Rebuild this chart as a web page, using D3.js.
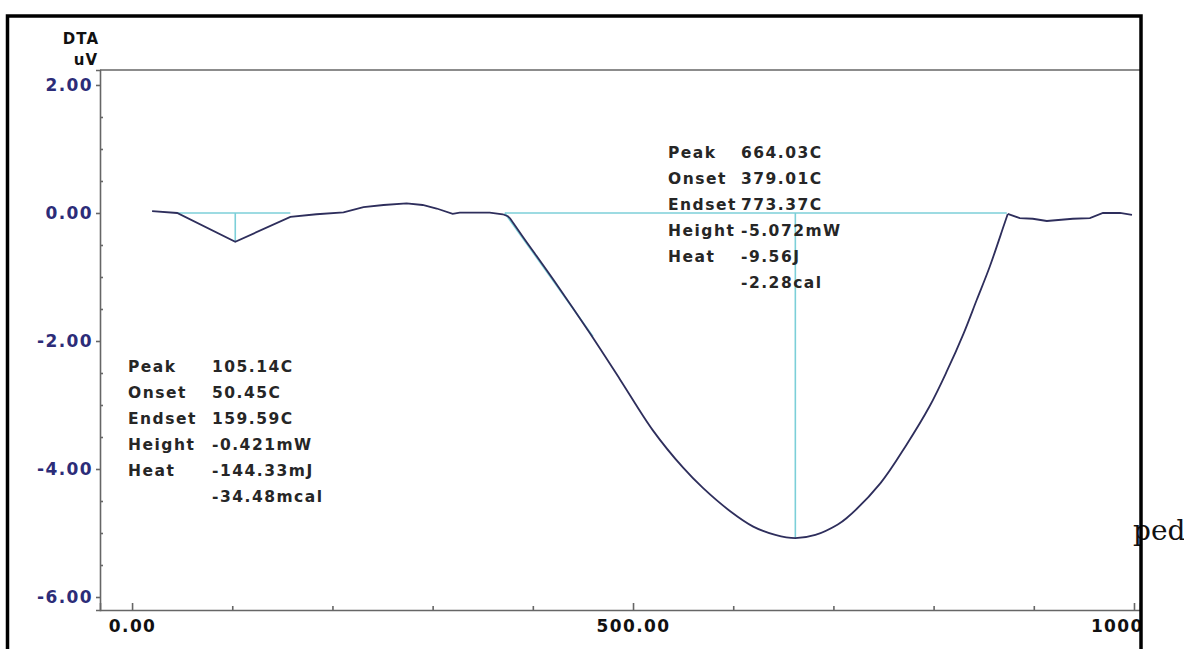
<!DOCTYPE html>
<html>
<head>
<meta charset="utf-8">
<script src="https://cdn.jsdelivr.net/npm/d3@7"></script>
<style>
  body { margin: 0; background: #fff; }
  svg { display: block; }
  .tick text { font-family: 'DejaVu Sans', sans-serif; font-weight: bold; letter-spacing: 1.4px; }
  .note { font-family: 'DejaVu Sans', sans-serif; font-weight: bold; font-size: 15.5px; letter-spacing: 1.5px; fill: #262626; }
</style>
</head>
<body>
<svg id="chart" width="1184" height="649"></svg>
<script>
// DTA trace: temperature (C) and signal (uV)
const temperature = [20, 45, 103, 158, 184, 211, 231, 251, 274, 290, 304, 320, 327, 357, 370, 375,
  377, 390, 424, 457, 487, 520, 550, 570, 597, 620, 642, 662, 682, 704, 713, 747, 773, 796, 813, 830, 843, 856, 870, 874,
  886, 899, 913, 939, 956, 969, 986, 998]
const signal = [0.03, 0, -0.45, -0.06, -0.02, 0.01, 0.09, 0.125, 0.15, 0.125, 0.07, -0.015, 0.005, 0.005, -0.02, -0.05,
  -0.08, -0.37, -1.12, -1.88, -2.60, -3.40, -3.98, -4.30, -4.66, -4.90, -5.03, -5.08, -5.03, -4.87, -4.77, -4.22, -3.62, -3.02, -2.48, -1.88, -1.36, -0.84, -0.20, -0.015,
  -0.08, -0.09, -0.125, -0.09, -0.08, 0, 0, -0.03]

// peak analysis construction lines (baseline ends, peak position and depth)
const smallBaseline = [45, 158]
const smallPeak = [103, -0.45]
const bigBaseline = [372, 873]
const bigPeak = [662, -5.08]
const bigTangent = [[372, 0], [460, -1.93]]

// tick values
const yMajor = [2, 0, -2, -4, -6]
const yMinor = [1.5, 1, 0.5, -0.5, -1, -1.5, -2.5, -3, -3.5, -4.5, -5, -5.5]
const xMajor = [0, 500, 1000]
const xMinor = [100, 200, 300, 400, 600, 700, 800, 900]

// result boxes
const smallLabels = ['Peak', 'Onset', 'Endset', 'Height', 'Heat', '']
const smallValues = ['105.14C', '50.45C', '159.59C', '-0.421mW', '-144.33mJ', '-34.48mcal']
const bigLabels = ['Peak', 'Onset', 'Endset', 'Height', 'Heat', '']
const bigValues = ['664.03C', '379.01C', '773.37C', '-5.072mW', '-9.56J', '-2.28cal']

const svg = d3.select('#chart')
const x = d3.scaleLinear().domain([-32, 1006]).range([100, 1140])
const y = d3.scaleLinear().domain([-6.203, 2.234]).range([610, 70])
const fmt = v => v.toFixed(2)

svg.append('defs').append('clipPath').attr('id', 'frame')
  .append('rect').attr('x', 0).attr('y', 0).attr('width', 1140).attr('height', 649)

const g = svg.append('g').attr('clip-path', 'url(#frame)')

// axes
const yAxis = g.append('g').attr('transform', `translate(${x.range()[0]},0)`)
  .call(d3.axisLeft(y).tickValues(yMajor).tickFormat(fmt).tickSize(4).tickPadding(3))
yAxis.selectAll('text').attr('font-size', 17).attr('fill', '#2c2c78')
g.append('g').attr('transform', `translate(${x.range()[0]},0)`)
  .call(d3.axisLeft(y).tickValues(yMinor).tickFormat('').tickSize(-3))
  .call(s => s.select('.domain').remove())

const xAxis = g.append('g').attr('transform', `translate(0,${y.range()[0]})`)
  .call(d3.axisBottom(x).tickValues(xMajor).tickFormat(fmt).tickSize(-7).tickPadding(10))
xAxis.selectAll('text').attr('font-size', 17).attr('fill', '#111')
g.append('g').attr('transform', `translate(0,${y.range()[0]})`)
  .call(d3.axisBottom(x).tickValues(xMinor).tickFormat('').tickSize(-4))
  .call(s => s.select('.domain').remove())

svg.selectAll('.domain, .tick line').attr('stroke', '#666').attr('stroke-width', 1.6)

// top frame line
g.append('line')
  .attr('x1', x.range()[0]).attr('x2', x.range()[1])
  .attr('y1', y.range()[1]).attr('y2', y.range()[1])
  .attr('stroke', '#666').attr('stroke-width', 1.6)

// axis title
const title = svg.append('g').attr('font-family', 'DejaVu Sans, sans-serif').attr('letter-spacing', 1)
  .attr('font-weight', 'bold').attr('font-size', 15).attr('fill', '#111').attr('text-anchor', 'end')
title.append('text').attr('x', 99).attr('y', 44).text('DTA')
title.append('text').attr('x', 98).attr('y', 65).text('uV')

// construction lines
const cyan = g.append('g').attr('stroke', '#7ccfd8').attr('stroke-width', 1.6).attr('fill', 'none')
cyan.append('line').attr('x1', x(smallBaseline[0])).attr('x2', x(smallBaseline[1])).attr('y1', y(0)).attr('y2', y(0))
cyan.append('line').attr('x1', x(smallPeak[0])).attr('x2', x(smallPeak[0])).attr('y1', y(0)).attr('y2', y(smallPeak[1]))
cyan.append('line').attr('x1', x(bigBaseline[0])).attr('x2', x(bigBaseline[1])).attr('y1', y(0)).attr('y2', y(0))
cyan.append('line').attr('x1', x(bigPeak[0])).attr('x2', x(bigPeak[0])).attr('y1', y(0)).attr('y2', y(bigPeak[1]))
cyan.append('line').attr('x1', x(bigTangent[0][0])).attr('x2', x(bigTangent[1][0]))
  .attr('y1', y(bigTangent[0][1])).attr('y2', y(bigTangent[1][1]))

// trace: sharp segments for the small event, smooth for the big one
const data = temperature.map((t, i) => ({ t, v: signal[i] }))
const lineSharp = d3.line().x(d => x(d.t)).y(d => y(d.v))
const lineSmooth = d3.line().x(d => x(d.t)).y(d => y(d.v)).curve(d3.curveCatmullRom.alpha(0.5))
const trace = g.append('g').attr('fill', 'none').attr('stroke', '#2e2e5c').attr('stroke-width', 1.8)
trace.append('path').datum(data.filter(d => d.t <= 377)).attr('d', lineSharp)
trace.append('path').datum(data.filter(d => d.t >= 377 && d.t <= 874)).attr('d', lineSmooth)
trace.append('path').datum(data.filter(d => d.t >= 874)).attr('d', lineSharp)

// result boxes
function notes (labels, values, x0, x1, top) {
  labels.forEach((l, i) => {
    svg.append('text').attr('class', 'note').attr('x', x0).attr('y', top + i * 25.9).text(l)
    svg.append('text').attr('class', 'note').attr('x', x1).attr('y', top + i * 25.9).text(values[i])
  })
}
notes(smallLabels, smallValues, 128, 212, 372)
notes(bigLabels, bigValues, 668, 741, 158)

// stray text at the right edge
svg.append('text').attr('x', 1133).attr('y', 540)
  .attr('font-family', 'DejaVu Serif, serif').attr('font-size', 28).attr('fill', '#111').text('ped')

// outer frame
svg.append('rect').attr('x', 7.5).attr('y', 16).attr('width', 1133.5).attr('height', 700)
  .attr('fill', 'none').attr('stroke', '#000').attr('stroke-width', 3.5)
</script>
</body>
</html>
